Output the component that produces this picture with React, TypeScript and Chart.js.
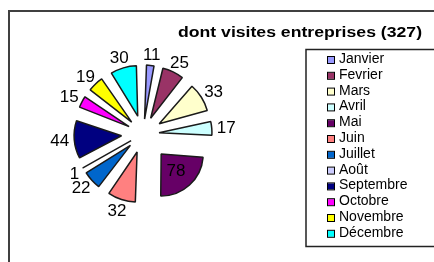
import { useEffect, useRef } from 'react';
import { Chart, registerables } from 'chart.js';

Chart.register(...registerables);

const months = ['Janvier', 'Fevrier', 'Mars', 'Avril', 'Mai', 'Juin', 'Juillet', 'Août', 'Septembre', 'Octobre', 'Novembre', 'Décembre'];
const visits = [11, 25, 33, 17, 78, 32, 22, 1, 44, 15, 19, 30];
const colors = ['#9999FF', '#993366', '#FFFFCC', '#CCFFFF', '#660066', '#FF8080', '#0066CC', '#CCCCFF', '#000080', '#FF00FF', '#FFFF00', '#00FFFF'];
const titleText = 'dont visites entreprises (327)';

const EXPLODE = 27;
const FONT = "'Liberation Sans', Arial, sans-serif";

// Chart.js applies offset/4 * (1 + fix); compensate so every slice moves by EXPLODE px
function offsetFor(value: number, total: number) {
  const c = (value / total) * 2 * Math.PI;
  const fix = 1 - Math.sin(Math.min(Math.PI, c));
  return (EXPLODE * 4) / (1 + fix);
}

const decor = {
  id: 'decor',
  afterDraw(chart: any) {
    const ctx: CanvasRenderingContext2D = chart.ctx;
    ctx.save();
    // outer frame
    ctx.strokeStyle = '#404040';
    ctx.lineWidth = 2;
    ctx.beginPath();
    ctx.moveTo(9, 270);
    ctx.lineTo(9, 11);
    ctx.lineTo(440, 11);
    ctx.stroke();

    // title
    ctx.font = `bold 15px ${FONT}`;
    ctx.fillStyle = '#000';
    ctx.textBaseline = 'alphabetic';
    ctx.textAlign = 'left';
    const tw = ctx.measureText(titleText).width;
    ctx.save();
    ctx.translate(178, 37);
    ctx.scale(244 / tw, 1);
    ctx.fillText(titleText, 0, 0);
    ctx.restore();

    // legend box
    ctx.lineWidth = 1.5;
    ctx.strokeStyle = '#222';
    ctx.strokeRect(306, 49.5, 200, 197);

    ctx.font = `14px ${FONT}`;
    ctx.textBaseline = 'alphabetic';
    months.forEach((m, i) => {
      const base = 63 + i * 15.8;
      ctx.fillStyle = colors[i];
      ctx.fillRect(328, base - 6, 6, 6);
      ctx.strokeStyle = '#000';
      ctx.lineWidth = 1;
      ctx.strokeRect(327.5, base - 6.5, 7, 7);
      ctx.fillStyle = '#000';
      ctx.fillText(m, 339, base);
    });

    // data labels
    const meta = chart.getDatasetMeta(0);
    ctx.font = `17px ${FONT}`;
    ctx.textAlign = 'center';
    ctx.textBaseline = 'middle';
    ctx.fillStyle = '#000';
    meta.data.forEach((arc: any, i: number) => {
      const p = arc.getProps(['x', 'y', 'startAngle', 'endAngle', 'outerRadius'], true);
      const mid = (p.startAngle + p.endAngle) / 2;
      const dx = Math.cos(mid);
      const dy = Math.sin(mid);
      const ax = p.x + dx * EXPLODE;
      const ay = p.y + dy * EXPLODE;
      const txt = String(visits[i]);
      const w = ctx.measureText(txt).width;
      const h = 12;
      let lx: number, ly: number;
      if (p.endAngle - p.startAngle > 1.2) {
        lx = ax + dx * p.outerRadius * 0.52;
        ly = ay + dy * p.outerRadius * 0.52;
      } else {
        const ex = ax + dx * p.outerRadius;
        const ey = ay + dy * p.outerRadius;
        const gap = 5;
        lx = ex + dx * gap + (dx * w) / 2;
        ly = ey + dy * gap + (dy * h) / 2;
      }
      ctx.fillText(txt, lx, ly + 1);
    });
    ctx.restore();
  },
};

export default function App() {
  const ref = useRef<HTMLCanvasElement>(null);
  useEffect(() => {
    if (!ref.current) return;
    const total = visits.reduce((a, b) => a + b, 0);
    const chart = new Chart(ref.current, {
      type: 'pie',
      data: {
        labels: months,
        datasets: [
          {
            data: visits,
            backgroundColor: colors,
            borderColor: '#1a1a1a',
            borderWidth: 1.5,
            offset: (c: any) => (c.dataIndex === undefined ? 0 : offsetFor(visits[c.dataIndex], total)),
          },
        ],
      },
      options: {
        responsive: false,
        animation: false,
        radius: 42,
        layout: { padding: { left: 0, right: 148, top: 6, bottom: 0 } },
        plugins: {
          legend: { display: false },
          title: { display: false },
          tooltip: { enabled: false },
        },
      } as any,
      plugins: [decor],
    });
    return () => chart.destroy();
  }, []);
  return (
    <div style={{ position: 'absolute', left: 0, top: 0, width: 434, height: 262, background: '#fff' }}>
      <canvas ref={ref} width={434} height={262} style={{ display: 'block' }} />
    </div>
  );
}
